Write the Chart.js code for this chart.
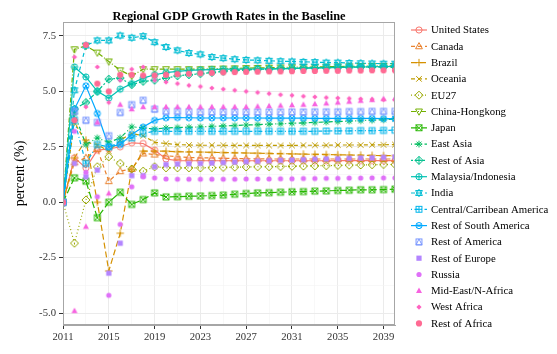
<!DOCTYPE html>
<html><head><meta charset="utf-8">
<script src="https://cdn.jsdelivr.net/npm/chart.js@4.4.0/dist/chart.umd.min.js"></script>
<style>html,body{margin:0;padding:0;background:#fff}#wrap{width:557px;height:354px}</style>
</head><body><div id="wrap"><canvas id="c" width="557" height="354"></canvas></div>
<script>
const years = [2011,2012,2013,2014,2015,2016,2017,2018,2019,2020,2021,2022,2023,2024,2025,2026,2027,2028,2029,2030,2031,2032,2033,2034,2035,2036,2037,2038,2039,2040];

const unitedStates = [0,2.0,1.55,2.35,2.4,2.5,2.68,2.65,2.35,1.95,1.88,1.87,1.87,1.87,1.87,1.87,1.87,1.87,1.87,1.87,1.87,1.87,1.87,1.87,1.88,1.88,1.88,1.88,1.88,1.88];
const canada = [0,1.8,2.0,2.4,0.95,1.4,1.5,2.2,2.15,2.1,2.05,2.02,2.0,2.0,1.98,1.97,1.96,1.96,1.95,1.95,1.95,1.95,1.95,1.95,1.95,1.95,1.95,1.95,1.95,1.95];
const brazil = [0,2.0,2.8,0.0,-3.1,-1.4,1.45,2.3,2.3,2.3,2.28,2.27,2.26,2.25,2.24,2.23,2.22,2.21,2.2,2.19,2.18,2.17,2.16,2.15,2.14,2.13,2.12,2.11,2.1,2.1];
const oceania = [0,3.6,2.7,2.6,2.3,2.8,3.1,3.0,2.7,2.65,2.6,2.58,2.57,2.57,2.57,2.56,2.56,2.56,2.56,2.56,2.56,2.57,2.57,2.57,2.58,2.58,2.58,2.59,2.59,2.6];
const eu27 = [0,-1.85,0.1,1.6,2.05,1.75,1.5,1.4,1.6,1.55,1.55,1.55,1.55,1.56,1.57,1.58,1.59,1.6,1.6,1.61,1.62,1.63,1.64,1.65,1.66,1.67,1.68,1.69,1.7,1.7];
const chinaHongkong = [0,6.9,7.05,6.75,6.35,5.95,5.7,6.0,6.0,6.0,6.0,6.0,6.0,6.02,6.03,6.04,6.05,6.06,6.07,6.08,6.09,6.1,6.1,6.11,6.12,6.13,6.14,6.15,6.15,6.15];
const japan = [0,1.1,0.95,-0.7,0.0,0.45,-0.1,0.12,0.42,0.24,0.25,0.27,0.28,0.3,0.32,0.36,0.39,0.42,0.43,0.45,0.47,0.48,0.5,0.51,0.53,0.54,0.56,0.56,0.57,0.59];
const eastAsia = [0,4.0,2.6,2.9,2.7,2.9,3.4,3.35,3.3,3.35,3.37,3.38,3.4,3.42,3.44,3.46,3.48,3.5,3.52,3.54,3.56,3.58,3.6,3.62,3.64,3.66,3.68,3.7,3.72,3.75];
const restOfAsia = [0,4.2,4.5,5.0,5.55,5.6,5.3,5.45,5.5,5.6,5.7,5.75,5.8,5.85,5.9,5.95,5.97,6.0,6.0,6.02,6.03,6.05,6.06,6.07,6.08,6.09,6.1,6.1,6.1,6.1];
const malaysiaIndonesia = [0,6.1,5.65,5.0,4.7,5.1,5.35,5.6,5.75,5.85,5.9,5.95,5.97,5.98,6.0,6.0,6.0,6.01,6.02,6.03,6.04,6.05,6.06,6.07,6.08,6.09,6.1,6.11,6.12,6.13];
const india = [0,5.05,7.07,7.3,7.3,7.52,7.42,7.49,7.22,7.0,6.85,6.73,6.67,6.55,6.5,6.45,6.42,6.4,6.38,6.36,6.35,6.33,6.32,6.3,6.3,6.28,6.27,6.26,6.25,6.25];
const centralCarribean = [0,3.7,1.75,2.6,2.5,2.7,2.9,3.1,3.2,3.2,3.2,3.2,3.2,3.2,3.2,3.2,3.2,3.2,3.2,3.2,3.2,3.2,3.2,3.21,3.22,3.22,3.23,3.23,3.24,3.25];
const restSouthAmerica = [0,4.2,5.25,4.0,2.5,2.6,3.06,3.39,3.69,3.81,3.82,3.81,3.8,3.8,3.8,3.8,3.8,3.8,3.79,3.79,3.79,3.79,3.78,3.78,3.78,3.78,3.78,3.78,3.77,3.77];
const restOfAmerica = [0,4.1,3.7,3.6,3.0,4.05,4.4,4.6,4.2,4.1,4.1,4.08,4.07,4.07,4.07,4.07,4.07,4.07,4.07,4.07,4.07,4.07,4.08,4.08,4.08,4.09,4.09,4.1,4.1,4.1];
const restOfEurope = [0,1.75,1.15,1.45,-3.2,-1.85,1.2,1.2,1.6,1.7,1.72,1.74,1.75,1.77,1.79,1.81,1.83,1.85,1.87,1.89,1.9,1.92,1.94,1.95,1.96,1.98,1.99,2.0,2.02,2.04];
const russia = [0,3.2,1.35,0.25,-4.2,-1.0,0.7,1.15,1.1,1.05,1.04,1.04,1.04,1.04,1.04,1.04,1.05,1.05,1.05,1.06,1.06,1.07,1.07,1.08,1.08,1.09,1.09,1.1,1.1,1.1];
const midEastNAfrica = [0,-4.9,-1.1,3.6,0.4,4.4,4.2,4.3,4.3,4.3,4.3,4.3,4.3,4.3,4.3,4.3,4.3,4.32,4.34,4.36,4.38,4.4,4.43,4.46,4.5,4.54,4.58,4.62,4.66,4.7];
const westAfrica = [0,6.55,4.3,6.1,4.5,5.5,6.0,6.1,5.5,5.42,5.35,5.27,5.22,5.15,5.1,5.05,5.0,4.95,4.9,4.85,4.82,4.78,4.75,4.72,4.7,4.68,4.66,4.64,4.62,4.6];
const restOfAfrica = [0,3.7,7.1,5.35,5.0,5.75,5.75,5.72,5.72,5.75,5.78,5.8,5.82,5.84,5.86,5.87,5.88,5.89,5.9,5.9,5.91,5.92,5.92,5.93,5.93,5.94,5.94,5.95,5.95,5.95];

const seriesNames = ["United States","Canada","Brazil","Oceania","EU27","China-Hongkong","Japan","East Asia","Rest of Asia","Malaysia/Indonesia","India","Central/Carribean America","Rest of South America","Rest of America","Rest of Europe","Russia","Mid-East/N-Africa","West Africa","Rest of Africa"];
const seriesValues = [unitedStates,canada,brazil,oceania,eu27,chinaHongkong,japan,eastAsia,restOfAsia,malaysiaIndonesia,india,centralCarribean,restSouthAmerica,restOfAmerica,restOfEurope,russia,midEastNAfrica,westAfrica,restOfAfrica];

const yMajorTicks = [-5.0,-2.5,0.0,2.5,5.0,7.5];
const yTickLabels = ["-5.0","-2.5","0.0","2.5","5.0","7.5"];
const yMinorTicks = [-3.75,-1.25,1.25,3.75,6.25];
const xMajorTicks = [2011,2015,2019,2023,2027,2031,2035,2039];
const xTickLabels = ["2011","2015","2019","2023","2027","2031","2035","2039"];
const xMinorTicks = [2013,2017,2021,2025,2029,2033,2037];

// styling (not data)
const colors = ["#F8766D","#E98331","#D59100","#BE9C00","#99A800","#72B000","#26B700","#00BC5E","#00C08D","#00C1B3","#00BDD3","#00B5EB","#00A9FF","#7A97FF","#B385FF","#DF70F8","#F763E0","#FF62C0","#FF6A93"];
const shapes = ["circle","triUp","plus","cross","diamond","triDown","squareCross","asterisk","diamondPlus","circlePlus","star6","squarePlus","circleCross","squareTri","fsquare","fcircle","ftri","fdiamond","fcircleL"];
const dashes = [[],[4,3],[6,3],[4,3],[1,2.5],[5,2,1,2],[7,3],[1,2.5,4,2.5],[2,2,6,2],[],[4,3],[1,2.5,4,2.5],[],null,null,null,null,null,null];
const SERIF = '"Liberation Serif", "Times New Roman", serif';

function drawShape(g, shape, x, y, col) {
  const r = 3.1;
  g.strokeStyle = col; g.fillStyle = col; g.lineWidth = 1; g.setLineDash([]);
  const line = (x1,y1,x2,y2)=>{g.beginPath();g.moveTo(x1,y1);g.lineTo(x2,y2);g.stroke();};
  const poly = (pts, fill)=>{g.beginPath();pts.forEach((p,i)=>i?g.lineTo(p[0],p[1]):g.moveTo(p[0],p[1]));g.closePath(); if(fill) g.fill(); else g.stroke();};
  const circ = (rr, fill)=>{g.beginPath();g.arc(x,y,rr,0,Math.PI*2); if(fill) g.fill(); else g.stroke();};
  const tu = [[x,y-r*1.2],[x-r*1.1,y+r*0.8],[x+r*1.1,y+r*0.8]];
  const td = [[x,y+r*1.2],[x-r*1.1,y-r*0.8],[x+r*1.1,y-r*0.8]];
  const s = r*0.95;
  const plusL = (k)=>{line(x-k,y,x+k,y);line(x,y-k,x,y+k);};
  const crossL = (k)=>{line(x-k,y-k,x+k,y+k);line(x-k,y+k,x+k,y-k);};
  switch(shape) {
    case 'circle': circ(r); break;
    case 'triUp': poly(tu); break;
    case 'plus': plusL(r*1.2); break;
    case 'cross': crossL(r*0.9); break;
    case 'diamond': poly([[x,y-r*1.3],[x+r*1.3,y],[x,y+r*1.3],[x-r*1.3,y]]); break;
    case 'triDown': poly(td); break;
    case 'squareCross': g.strokeRect(x-s,y-s,2*s,2*s); crossL(s); break;
    case 'asterisk': plusL(r*1.1); crossL(r*0.8); break;
    case 'diamondPlus': poly([[x,y-r*1.3],[x+r*1.3,y],[x,y+r*1.3],[x-r*1.3,y]]); plusL(r*1.3); break;
    case 'circlePlus': circ(r); plusL(r); break;
    case 'star6': poly(tu); poly(td); break;
    case 'squarePlus': g.strokeRect(x-s,y-s,2*s,2*s); plusL(s); break;
    case 'circleCross': circ(r); crossL(r*0.7); break;
    case 'squareTri': g.strokeRect(x-s,y-s,2*s,2*s); poly([[x-s,y+s],[x,y-s],[x+s,y+s]]); break;
    case 'fsquare': g.fillRect(x-2.6,y-2.6,5.2,5.2); break;
    case 'fcircle': circ(2.6,true); break;
    case 'ftri': poly([[x,y-3.3],[x-3,y+2.2],[x+3,y+2.2]],true); break;
    case 'fdiamond': poly([[x,y-2.6],[x+2.6,y],[x,y+2.6],[x-2.6,y]],true); break;
    case 'fcircleL': circ(3.1,true); break;
  }
}
function makeMarker(shape, color) {
  const c = document.createElement('canvas');
  c.width = 12; c.height = 12;
  drawShape(c.getContext('2d'), shape, 6, 6, color);
  return c;
}

const lineSets = [], pointSets = [];
seriesNames.forEach((name, i) => {
  const pts = years.map((yr, j) => ({x: yr, y: seriesValues[i][j]}));
  if (dashes[i]) {
    lineSets.push({label: name + ' line', data: pts, borderColor: colors[i], borderWidth: 1.2,
      borderDash: dashes[i], pointRadius: 0, pointHoverRadius: 0, fill: false, tension: 0,
      order: 100 - i, clip: 0});
  }
  pointSets.push({label: name, data: pts, showLine: false, pointStyle: makeMarker(shapes[i], colors[i]),
    pointRadius: 3, pointHoverRadius: 3, order: -i, clip: 0, borderColor: colors[i], backgroundColor: colors[i]});
});

const isMajor = (arr, v) => arr.some(m => Math.abs(m - v) < 1e-6);

const decor = {
  id: 'decor',
  afterDraw(chart) {
    const {ctx, chartArea: a} = chart;
    ctx.save();
    ctx.strokeStyle = '#A6A6A6'; ctx.lineWidth = 1; ctx.setLineDash([]);
    ctx.strokeRect(Math.round(a.left)+0.5, Math.round(a.top)+0.5, Math.round(a.right-a.left)-1, Math.round(a.bottom-a.top)-1);
    // title
    ctx.fillStyle = '#000';
    ctx.font = 'bold 12.4px ' + SERIF;
    ctx.textAlign = 'center'; ctx.textBaseline = 'alphabetic';
    ctx.fillText('Regional GDP Growth Rates in the Baseline', (a.left + a.right) / 2, 20);
    // legend
    ctx.font = '10.8px ' + SERIF;
    ctx.textAlign = 'left'; ctx.textBaseline = 'middle';
    seriesNames.forEach((name, i) => {
      const cy = 30 + i * 16.3;
      if (dashes[i]) {
        ctx.strokeStyle = colors[i]; ctx.lineWidth = 1.2; ctx.setLineDash(dashes[i]);
        ctx.beginPath(); ctx.moveTo(411, cy); ctx.lineTo(427, cy); ctx.stroke();
        ctx.setLineDash([]);
      }
      drawShape(ctx, shapes[i], 419, cy, colors[i]);
      ctx.fillStyle = '#000';
      ctx.fillText(name, 431, cy + 0.5);
    });
    ctx.restore();
  }
};

new Chart(document.getElementById('c'), {
  type: 'line',
  data: {datasets: [...lineSets, ...pointSets]},
  options: {
    responsive: false, animation: false, devicePixelRatio: 1,
    layout: {padding: {left: 8, right: 162, top: 22, bottom: 0}},
    plugins: {legend: {display: false}, title: {display: false}, tooltip: {enabled: false}},
    scales: {
      x: {
        type: 'linear', min: 2011, max: 2040,
        afterBuildTicks: (s) => { s.ticks = [...xMajorTicks, ...xMinorTicks].sort((a,b)=>a-b).map(v => ({value: v})); },
        afterFit: (s) => { s.height = 29; },
        ticks: {autoSkip: false, maxRotation: 0, padding: 2, color: '#333',
          font: {family: SERIF, size: 10.7},
          callback: (v) => { const k = xMajorTicks.indexOf(v); return k >= 0 ? xTickLabels[k] : ''; }},
        grid: {
          color: (c) => isMajor(xMajorTicks, c.tick.value) ? '#EBEBEB' : '#F4F4F4',
          lineWidth: (c) => isMajor(xMajorTicks, c.tick.value) ? 1 : 0.6,
          tickColor: (c) => isMajor(xMajorTicks, c.tick.value) ? '#333' : 'rgba(0,0,0,0)',
          tickLength: 4, drawTicks: true
        },
        border: {display: true, color: '#A6A6A6'}
      },
      y: {
        type: 'linear', min: -5.54, max: 8.13,
        afterBuildTicks: (s) => { s.ticks = [...yMajorTicks, ...yMinorTicks].sort((a,b)=>a-b).map(v => ({value: v})); },
        afterFit: (s) => { s.width = 55; },
        ticks: {autoSkip: false, padding: 3, color: '#333',
          font: {family: SERIF, size: 10.7},
          callback: (v) => { const k = yMajorTicks.findIndex(m => Math.abs(m - v) < 1e-6); return k >= 0 ? yTickLabels[k] : ''; }},
        grid: {
          color: (c) => isMajor(yMajorTicks, c.tick.value) ? '#EBEBEB' : '#F4F4F4',
          lineWidth: (c) => isMajor(yMajorTicks, c.tick.value) ? 1 : 0.6,
          tickColor: (c) => isMajor(yMajorTicks, c.tick.value) ? '#333' : 'rgba(0,0,0,0)',
          tickLength: 4, drawTicks: true
        },
        border: {display: true, color: '#A6A6A6'},
        title: {display: true, text: 'percent (%)', color: '#000', font: {family: SERIF, size: 14}, padding: {top: 4, bottom: 0}}
      }
    }
  },
  plugins: [decor]
});
</script></body></html>
